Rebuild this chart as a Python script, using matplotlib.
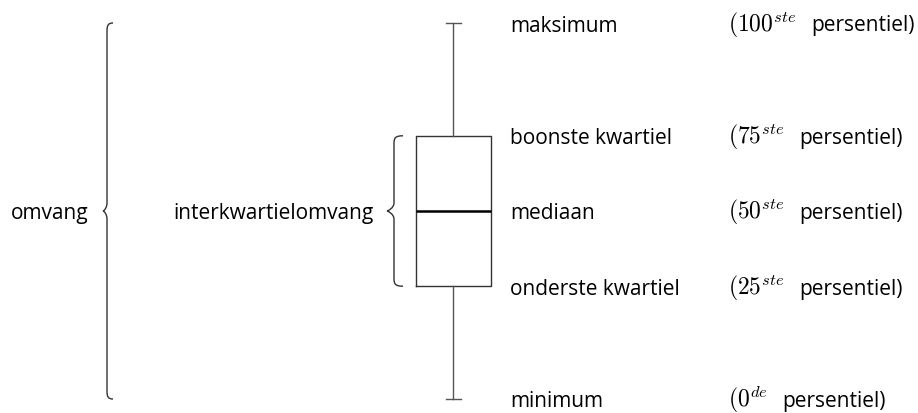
import matplotlib
matplotlib.use("Agg")
import matplotlib.pyplot as plt
from matplotlib.path import Path
from matplotlib.patches import PathPatch

# box plot statistics (arbitrary units)
stat_names = ["minimum", "onderste kwartiel", "mediaan", "boonste kwartiel", "maksimum"]
stat_values = [0, 3, 5, 7, 10]
percentile_nums = [r"$(0^{de}$", r"$(25^{ste}$", r"$(50^{ste}$", r"$(75^{ste}$", r"$(100^{ste}$"]
percentile_word = "persentiel)"
range_label = "omvang"
iqr_label = "interkwartielomvang"

plt.rcParams["mathtext.fontset"] = "cm"
plt.rcParams["font.family"] = ["Open Sans", "DejaVu Sans"]

W, H = 918, 414
fig = plt.figure(figsize=(W / 100, H / 100), dpi=100)
ax = fig.add_axes([0, 0, 1, 1])
ax.set_xlim(0, W)
ppu = 37.6  # pixels per unit
y_min_px = 400
ax.set_ylim((y_min_px - H) / ppu, y_min_px / ppu)
ax.axis("off")

mn, q1, med, q3, mx = stat_values
stats = [dict(whislo=mn, q1=q1, med=med, q3=q3, whishi=mx, fliers=[])]
ax.bxp(stats, positions=[453], widths=75, showfliers=False,
       boxprops=dict(color="#333333", lw=1.0),
       whiskerprops=dict(color="#555555", lw=1.0),
       capprops=dict(color="#555555", lw=1.0),
       medianprops=dict(color="black", lw=1.8),
       capwidths=15, manage_ticks=False)


def brace(x, y0, y1, hook=6, tip=5, r=6):
    """Left-pointing curly brace; x offsets in px, y in data units."""
    ru = r / ppu
    ym = (y0 + y1) / 2
    verts = [
        (x + hook, y1), (x + 1, y1), (x, y1 - ru * 0.3), (x, y1 - ru),
        (x, ym + ru),
        (x, ym + ru * 0.4), (x - tip + 1, ym), (x - tip, ym),
        (x - tip + 1, ym), (x, ym - ru * 0.4), (x, ym - ru),
        (x, y0 + ru),
        (x, y0 + ru * 0.3), (x + 1, y0), (x + hook, y0),
    ]
    codes = [Path.MOVETO, Path.CURVE4, Path.CURVE4, Path.CURVE4,
             Path.LINETO,
             Path.CURVE4, Path.CURVE4, Path.CURVE4,
             Path.CURVE4, Path.CURVE4, Path.CURVE4,
             Path.LINETO,
             Path.CURVE4, Path.CURVE4, Path.CURVE4]
    ax.add_patch(PathPatch(Path(verts, codes), fill=False, ec="#333333", lw=1.0))


brace(107, mn, mx, hook=6, tip=4, r=8)
brace(394, q1, q3, hook=9, tip=7, r=8)

fs = 15
fs_math = 17
base = 7.5 / ppu  # baseline sits a few px below the reference line

ax.text(89, med - base, range_label, ha="right", va="baseline", fontsize=fs)
ax.text(374, med - base, iqr_label, ha="right", va="baseline", fontsize=fs)

for name, val, num in zip(stat_names, stat_values, percentile_nums):
    ax.text(510, val - base, name, ha="left", va="baseline", fontsize=fs)
    t = ax.text(728, val - base, num, ha="left", va="baseline", fontsize=fs_math)
    ax.annotate(percentile_word, xy=(1, val - base), xycoords=(t, "data"),
                xytext=(10.5, 0), textcoords="offset points",
                ha="left", va="baseline", fontsize=fs)

fig.savefig("out.png", dpi=100)
